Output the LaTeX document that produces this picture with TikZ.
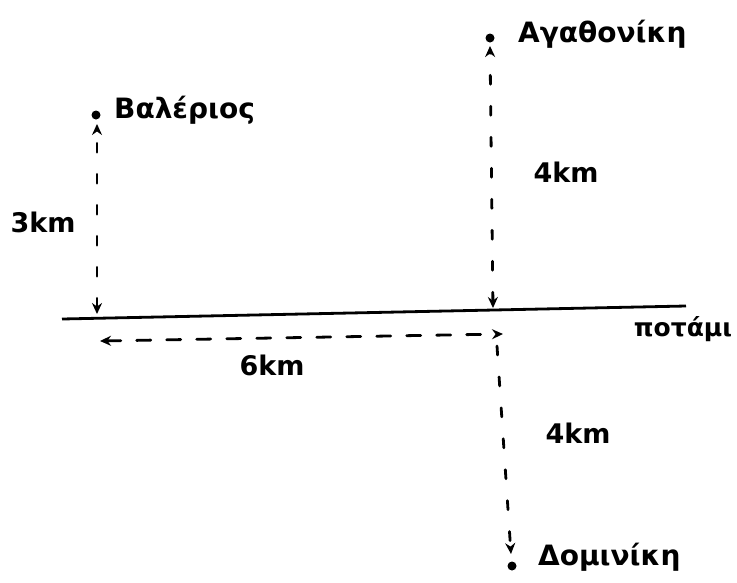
\documentclass[tikz,border=0pt]{standalone}
\usepackage{fontspec}
\setmainfont{DejaVu Sans}
\usetikzlibrary{arrows.meta}
\begin{document}
\begin{tikzpicture}[x=1pt,y=-1pt,
  dot/.style={circle,fill=black,inner sep=0pt,minimum size=9pt},
  tip/.tip={Stealth[length=11pt,width=10pt]},
  dim/.style={line width=2.8pt,dash pattern=on 9pt off 22pt,line cap=round,tip-tip},
  dimone/.style={line width=2.8pt,dash pattern=on 9pt off 22pt,line cap=round,-tip},
  hdim/.style={line width=2.8pt,dash pattern=on 14pt off 16pt,line cap=round,tip-tip},
  lbl/.style={font=\fontsize{28}{32}\selectfont\bfseries,inner sep=0pt},
  dlbl/.style={font=\fontsize{27}{31}\selectfont\bfseries,inner sep=0pt},
  rlbl/.style={font=\fontsize{25}{29}\selectfont\bfseries,inner sep=0pt},
  river/.style={line width=2.8pt}]
\useasboundingbox (0,0) rectangle (737,582);
% river
\coordinate (rl) at (62,319);
\coordinate (rr) at (686,306);
\draw[river] (rl) -- (rr);
\node[rlbl] (rname) at (683,329) {ποτάμι};
% points
\node[dot] (val) at (96,115) {};
\node[lbl,anchor=west] (valn) at (114,110) {Βαλέριος};
\node[dot] (aga) at (490,38) {};
\node[lbl,anchor=west] (agan) at (518,34) {Αγαθονίκη};
\node[dot] (dom) at (512,566) {};
\node[lbl,anchor=west] (domn) at (538,557) {Δομινίκη};
% foot points
\coordinate (vtop) at (97,124);
\coordinate (vbot) at (97,314);
\coordinate (atop) at (490,46);
\coordinate (abot) at (493,308);
\coordinate (hl) at (100,341);
\coordinate (hr) at (503,334);
\coordinate (dtop) at (497,346);
\coordinate (dbot) at (511,554);
% dimension lines
\draw[dim] (vbot) -- (vtop);
\draw[dim] (abot) -- (atop);
\draw[hdim] (hl) -- (hr);
\draw[dimone] (dtop) -- (dbot);
% labels
\node[dlbl] (d1) at (43,222) {3km};
\node[dlbl] (d2) at (566,172) {4km};
\node[dlbl] (d3) at (272,365) {6km};
\node[dlbl] (d4) at (578,433) {4km};
\end{tikzpicture}
\end{document}
